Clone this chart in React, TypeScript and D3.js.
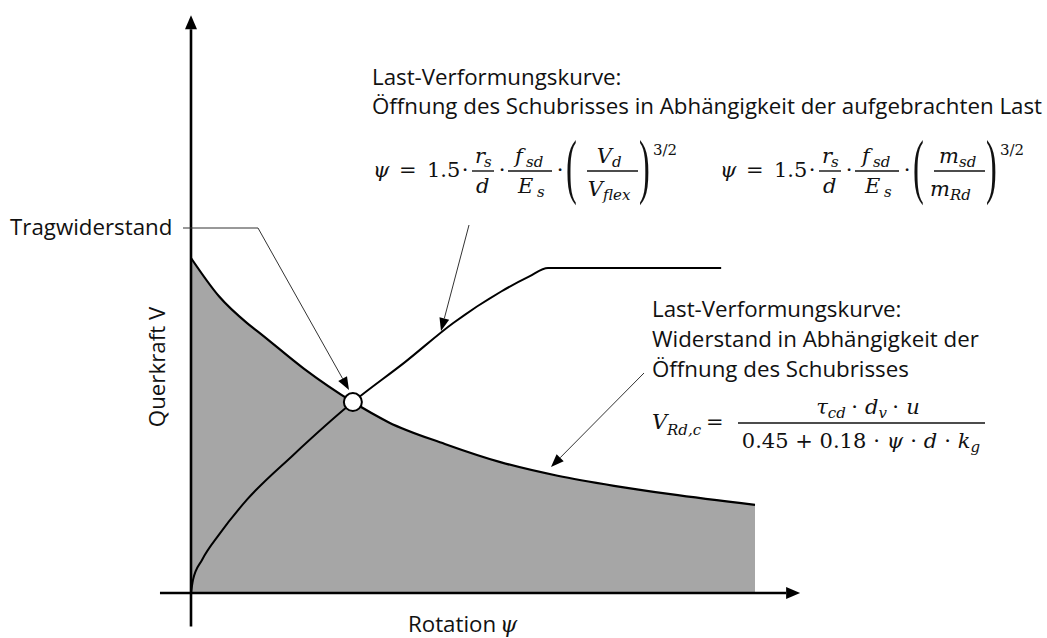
import React from "react";
import * as d3 from "d3";

const W = 1047;
const H = 638;

// Failure criterion: shear resistance V over rotation ψ (normalised units)
const resistancePsi = [0, 0.5, 1.0, 1.22, 2.0, 2.87, 3.5, 4.5, 5.5, 6.5, 7.5, 8.5, 10];
const resistanceV = [1.0, 0.885, 0.805, 0.776, 0.67, 0.57, 0.51, 0.445, 0.39, 0.35, 0.32, 0.295, 0.263];

// Load–rotation curve of the slab (rises, then levels off at the flexural capacity)
const loadPsi = [0, 0.035, 0.2, 0.5, 1.0, 1.8, 2.87, 3.8, 4.65, 5.5, 6.0, 6.33, 9.4];
const loadV = [0, 0.039, 0.1, 0.175, 0.28, 0.41, 0.57, 0.69, 0.806, 0.9, 0.945, 0.97, 0.97];

// Intersection of both curves: punching resistance
const failurePsi = [2.87];
const failureV = [0.57];

// Extent of the drawn axes (data units)
const psiAxis = [-0.55, 10.8];
const vAxis = [-0.1, 1.725];

const TEXT = "'Open Sans', sans-serif";
const TS = 22.3;
const MATH = "'DejaVu Serif', serif";
const PAREN = "'Liberation Serif', serif";
const INK = "#111";

type Pt = { psi: number; v: number };
const resistance: Pt[] = resistancePsi.map((psi, i) => ({ psi, v: resistanceV[i] }));
const load: Pt[] = loadPsi.map((psi, i) => ({ psi, v: loadV[i] }));

function Arrow({ pts, head = 13, half = 5, width = 1, color = "#333" }: { pts: [number, number][]; head?: number; half?: number; width?: number; color?: string }) {
  const n = pts.length;
  const [x1, y1] = pts[n - 2];
  const [x2, y2] = pts[n - 1];
  const len = Math.hypot(x2 - x1, y2 - y1);
  const ux = (x2 - x1) / len;
  const uy = (y2 - y1) / len;
  const bx = x2 - ux * head;
  const by = y2 - uy * head;
  const line = [...pts.slice(0, n - 1), [bx, by]].map((p) => p.join(",")).join(" ");
  const tri = [
    [x2, y2],
    [bx - uy * half, by + ux * half],
    [bx + uy * half, by - ux * half],
  ]
    .map((p) => p.join(","))
    .join(" ");
  return (
    <g>
      <polyline points={line} fill="none" stroke={color} strokeWidth={width} />
      <polygon points={tri} fill="#000" />
    </g>
  );
}

function T({ x, y, children, size = 21, italic = true, anchor = "start", font = MATH }: any) {
  return (
    <text x={x} y={y} fontFamily={font} fontSize={size} fontStyle={italic ? "italic" : "normal"} textAnchor={anchor} fill={INK}>
      {children}
    </text>
  );
}

function Label({ x, y, children }: any) {
  return (
    <text x={x} y={y} fontFamily={TEXT} fontSize={TS} fill={INK}>
      {children}
    </text>
  );
}

function Bar({ x1, x2, y }: { x1: number; x2: number; y: number }) {
  return <line x1={x1} x2={x2} y1={y} y2={y} stroke={INK} strokeWidth={1.4} />;
}

function Paren({ x, y, open }: { x: number; y: number; open: boolean }) {
  return (
    <text transform={`translate(${x},${y}) scale(0.45,1)`} fontFamily={PAREN} fontSize={72} fill={INK}>
      {open ? "(" : ")"}
    </text>
  );
}

// ψ = 1.5 · r_s/d · f_sd/E_s · (…)^{3/2}, inner fraction supplied by caller
function PsiFormula({ dx, num, den }: { dx: number; num: [string, string]; den: [string, string] }) {
  return (
    <g transform={`translate(${dx},0)`}>
      <T x={373} y={177}>ψ</T>
      <T x={399} y={177} italic={false}>=</T>
      <T x={427} y={177} italic={false}>1.5</T>
      <T x={465} y={177} italic={false} anchor="middle">⋅</T>
      <T x={475} y={163}>r</T>
      <T x={484} y={167} size={15}>s</T>
      <Bar x1={472} x2={494} y={171} />
      <T x={476} y={193}>d</T>
      <T x={502} y={177} italic={false} anchor="middle">⋅</T>
      <T x={515} y={163}>f</T>
      <T x={526} y={167} size={15}>sd</T>
      <Bar x1={508} x2={552} y={171} />
      <T x={518} y={193}>E</T>
      <T x={537} y={197} size={15}>s</T>
      <T x={560} y={177} italic={false} anchor="middle">⋅</T>
      <Paren x={566} y={190} open />
      <T x={612} y={163} anchor="end">{num[0]}</T>
      <T x={612} y={167} size={15}>{num[1]}</T>
      <Bar x1={587} x2={638} y={171} />
      <T x={603} y={196} anchor="end">{den[0]}</T>
      <T x={603} y={200} size={15}>{den[1]}</T>
      <Paren x={639} y={190} open={false} />
      <T x={653} y={155} size={15} italic={false}>3/2</T>
    </g>
  );
}

export default function App() {
  const x = d3.scaleLinear().domain([0, 10]).range([191, 755]);
  const y = d3.scaleLinear().domain([0, 1]).range([593, 258]);

  const area = d3
    .area<Pt>()
    .x((d) => x(d.psi))
    .y0(y(0))
    .y1((d) => y(d.v))
    .curve(d3.curveMonotoneX);
  const line = d3
    .line<Pt>()
    .x((d) => x(d.psi))
    .y((d) => y(d.v))
    .curve(d3.curveMonotoneX);

  const x0 = x(0);
  const y0 = y(0);
  const cx = x(failurePsi[0]);
  const cy = y(failureV[0]);

  return (
    <svg width={W} height={H} viewBox={`0 0 ${W} ${H}`} style={{ position: "absolute", left: 0, top: 0, background: "#fff" }}>
      <rect width={W} height={H} fill="#fff" />

      {/* admissible region below the failure criterion */}
      <path d={area(resistance) ?? ""} fill="#a6a6a6" />
      <path d={line(resistance) ?? ""} fill="none" stroke="#000" strokeWidth={2.2} />
      <path d={line(load) ?? ""} fill="none" stroke="#000" strokeWidth={2} />

      {/* axes */}
      <Arrow pts={[[x(psiAxis[0]), y0], [x(psiAxis[1]), y0]]} head={14} half={6} width={2.6} color="#000" />
      <Arrow pts={[[x0, y(vAxis[0])], [x0, y(vAxis[1])]]} head={14} half={6} width={2.6} color="#000" />

      {/* annotation leaders */}
      <Arrow pts={[[183, 228], [258, 228], [349, 390]]} />
      <Arrow pts={[[469, 225], [441, 331]]} />
      <Arrow pts={[[644, 373], [551, 467]]} />

      <circle cx={cx} cy={cy} r={9} fill="#fff" stroke="#000" strokeWidth={2} />

      {/* axis titles */}
      <Label x={408} y={632}>Rotation</Label>
      <T x={500} y={632} size={22}>ψ</T>
      <text transform="translate(165,367) rotate(-90)" textAnchor="middle" fontFamily={TEXT} fontSize={TS} fill={INK}>
        Querkraft V
      </text>

      <Label x={10} y={235}>Tragwiderstand</Label>

      {/* load–rotation curve description */}
      <Label x={372} y={85}>Last-Verformungskurve:</Label>
      <Label x={372} y={114}>Öffnung des Schubrisses in Abhängigkeit der aufgebrachten Last</Label>
      <PsiFormula dx={0} num={["V", "d"]} den={["V", "flex"]} />
      <PsiFormula dx={347} num={["m", "sd"]} den={["m", "Rd"]} />

      {/* failure criterion description */}
      <Label x={652} y={317}>Last-Verformungskurve:</Label>
      <Label x={652} y={347}>Widerstand in Abhängigkeit der</Label>
      <Label x={652} y={377}>Öffnung des Schubrisses</Label>

      <T x={652} y={429}>V</T>
      <T x={667} y={435} size={15}>Rd,c</T>
      <T x={706} y={429} italic={false}>=</T>
      <text x={868} y={414} textAnchor="middle" fontFamily={MATH} fontSize={21} fill={INK}>
        <tspan fontStyle="italic">τ</tspan>
        <tspan fontStyle="italic" fontSize={15} dy={4}>cd</tspan>
        <tspan dy={-4} dx={5}>⋅</tspan>
        <tspan fontStyle="italic" dx={7}>d</tspan>
        <tspan fontStyle="italic" fontSize={15} dy={4}>v</tspan>
        <tspan dy={-4} dx={5}>⋅</tspan>
        <tspan fontStyle="italic" dx={7}>u</tspan>
      </text>
      <Bar x1={738} x2={985} y={423} />
      <text x={861} y={448} textAnchor="middle" fontFamily={MATH} fontSize={21} fill={INK}>
        <tspan>0.45 + 0.18 ⋅ </tspan>
        <tspan fontStyle="italic">ψ</tspan>
        <tspan> ⋅ </tspan>
        <tspan fontStyle="italic">d</tspan>
        <tspan> ⋅ </tspan>
        <tspan fontStyle="italic">k</tspan>
        <tspan fontStyle="italic" fontSize={15} dy={4}>g</tspan>
      </text>
    </svg>
  );
}
